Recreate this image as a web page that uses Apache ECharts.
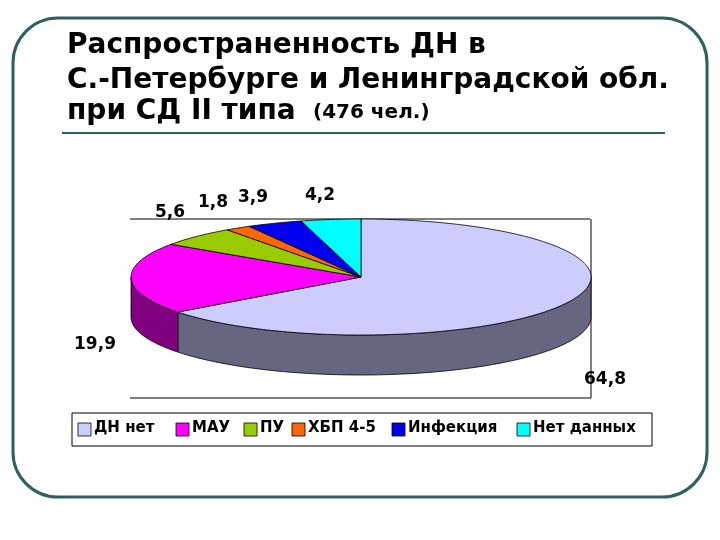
<!DOCTYPE html><html><head><meta charset="utf-8"><script src="https://cdn.jsdelivr.net/npm/echarts@6/dist/echarts.min.js"></script>
<style>html,body{margin:0;background:#fff}#c{width:720px;height:540px}</style></head><body><div id="c"></div><script>
const categories=['ДН нет','МАУ','ПУ','ХБП 4-5','Инфекция','Нет данных'];
const values=[64.8,19.9,5.6,1.8,3.9,4.2];
const labels=['64,8','19,9','5,6','1,8','3,9','4,2'];
const topColors=['#ccccff','#ff00ff','#99cc00','#ff6600','#0000ee','#00ffff'];
const sideColors=['#666680','#800080','#4d6600','#803300','#000077','#008080'];
const labelPos=[[605,380],[95,345],[170,213],[213,203],[253,198],[320,196]];
const cx=361,cy=277,rx=230,ry=58,depth=40;
const total=values.reduce((a,b)=>a+b,0);
const starts=[];let acc=0;values.forEach(v=>{starts.push(acc/total*2*Math.PI);acc+=v;});
function pt(t,dy){return [cx+rx*Math.sin(t),cy-ry*Math.cos(t)+(dy||0)];}
function arc(a,b,dy){const n=Math.max(2,Math.ceil((b-a)/0.02));const p=[];for(let i=0;i<=n;i++)p.push(pt(a+(b-a)*i/n,dy));return p;}
const chart=echarts.init(document.getElementById('c'));
const ls={stroke:'#000',lineWidth:0.8};
const g=[{type:'rect',shape:{x:13,y:18,width:694,height:479,r:45},style:{fill:'none',stroke:'#2f6060',lineWidth:3}},
{type:'text',style:{x:67,y:28,text:'Распространенность ДН в\nС.-Петербурге и Ленинградской обл.',font:'bold 28px "DejaVu Sans"',lineHeight:35,fill:'#000'}},
{type:'text',style:{x:67,y:98,text:'при СД II типа',font:'bold 28px "DejaVu Sans"',fill:'#000'}},
{type:'text',style:{x:313,y:103,text:'(476 чел.)',font:'bold 20px "DejaVu Sans"',fill:'#000'}},
{type:'line',shape:{x1:62,y1:133,x2:665,y2:133},style:{stroke:'#2f6060',lineWidth:2}},
{type:'polyline',shape:{points:[[130,219],[590,219]]},style:{stroke:'#000',lineWidth:1}},
{type:'polyline',shape:{points:[[130,398],[591,398],[591,219]]},style:{stroke:'#000',lineWidth:1}},
{type:'rect',shape:{x:72,y:413,width:580,height:33},style:{fill:'#fff',stroke:'#000',lineWidth:1}}];
const lx=[78,176,244,292,392,517];
categories.forEach((c,i)=>{g.push({type:'rect',shape:{x:lx[i],y:423,width:13,height:13},style:{fill:topColors[i],stroke:'#000',lineWidth:0.8}});
g.push({type:'text',style:{x:lx[i]+16,y:421,text:c,font:'bold 15px "DejaVu Sans"',fill:'#000'}});});
labels.forEach((l,i)=>g.push({type:'text',style:{x:labelPos[i][0],y:labelPos[i][1],text:l,font:'bold 17px "DejaVu Sans"',fill:'#000',align:'center',verticalAlign:'middle'}}));
const idx=values.map((v,i)=>i);
chart.setOption({animation:false,graphic:g,series:[
{type:'custom',coordinateSystem:'none',data:idx,renderItem:(p,api)=>{const i=api.value(0);const a=starts[i],b=a+values[i]/total*2*Math.PI;
const lo=Math.max(a,Math.PI/2),hi=Math.min(b,1.5*Math.PI);const ch=[];
if(hi>lo){const top=arc(lo,hi,0),bot=arc(lo,hi,depth).reverse();ch.push({type:'polygon',shape:{points:top.concat(bot)},style:Object.assign({fill:sideColors[i]},ls)});}
if(b>Math.PI&&b<1.5*Math.PI){const e=pt(b,0);ch.push({type:'line',shape:{x1:e[0],y1:e[1],x2:e[0],y2:e[1]+depth},style:ls});}
return {type:'group',children:ch};}},
{type:'custom',coordinateSystem:'none',data:idx,renderItem:(p,api)=>{const i=api.value(0);const a=starts[i],b=a+values[i]/total*2*Math.PI;
return {type:'polygon',shape:{points:[[cx,cy]].concat(arc(a,b,0))},style:Object.assign({fill:topColors[i]},ls)};}}
]});
</script></body></html>
